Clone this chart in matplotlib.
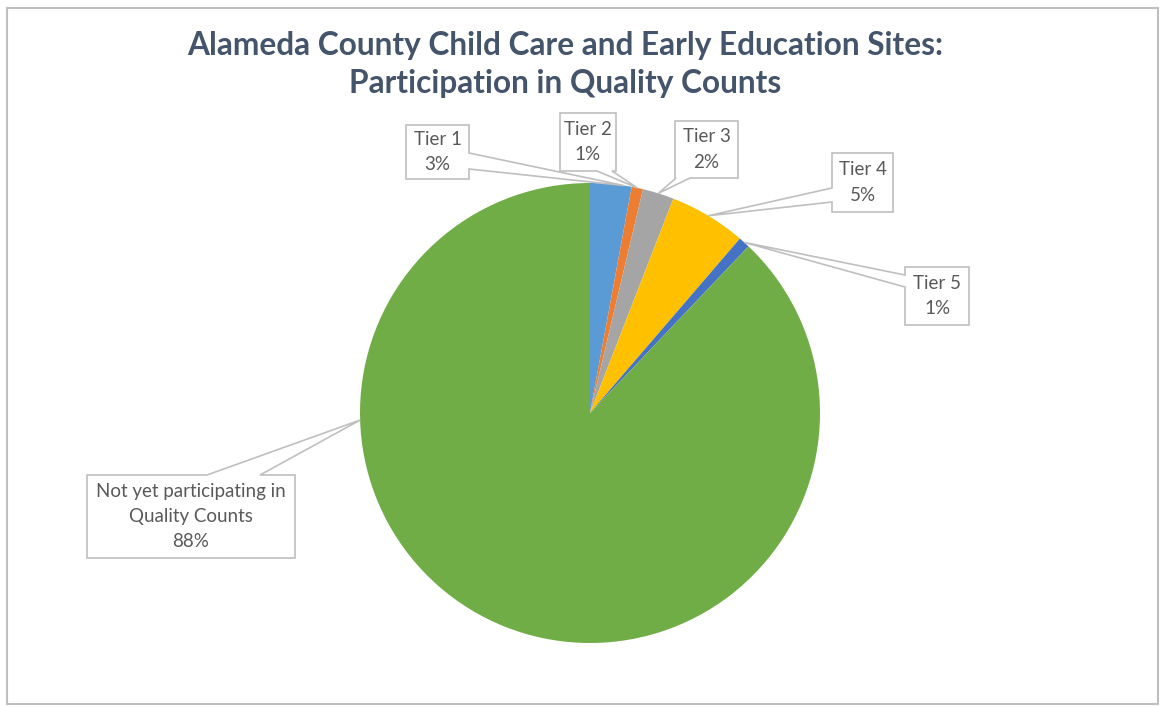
import matplotlib
matplotlib.use("Agg")
import matplotlib.pyplot as plt
from matplotlib.patches import Polygon, Rectangle
import numpy as np

# Data (percent of sites)
categories = ["Tier 1", "Tier 2", "Tier 3", "Tier 4", "Tier 5",
              "Not yet participating in\nQuality Counts"]
values = [2.9, 0.8, 2.2, 5.4, 0.8, 87.9]
colors = ["#5B9BD5", "#ED7D31", "#A5A5A5", "#FFC000", "#4472C4", "#70AD47"]

title = "Alameda County Child Care and Early Education Sites:\nParticipation in Quality Counts"

W, H = 1161, 707
plt.rcParams['font.family'] = ['Lato', 'DejaVu Sans']

fig = plt.figure(figsize=(W / 100, H / 100), dpi=100)
ax = fig.add_axes([0, 0, 1, 1])
ax.set_xlim(0, W)
ax.set_ylim(0, H)
ax.set_aspect('equal')
ax.axis('off')

# pixel helper: picture coords (y down) -> axes coords (y up)
def P(x, y):
    return (x, H - y)

# outer frame
ax.add_patch(Rectangle(P(7, 704), 1151, 696, fill=False, edgecolor="#BFBFBF", linewidth=1.5))

cx, cy = P(590, 413)
radius = 230
wedges, _ = ax.pie(values, colors=colors, startangle=90, counterclock=False,
                   center=(cx, cy), radius=radius, wedgeprops=dict(linewidth=0),
                   frame=True)
ax.set_xlim(0, W)
ax.set_ylim(0, H)
ax.axis('off')

fig.text(565 / W, 1 - 45 / H, title.split("\n")[0], ha='center', va='center',
         fontsize=22.8, fontweight='bold', color="#44546A")
fig.text(565 / W, 1 - 83 / H, title.split("\n")[1], ha='center', va='center',
         fontsize=22.8, fontweight='bold', color="#44546A")

# callout layout: box (x0, y0, x1, y1) in picture px, side of pointer, pointer base, spot in slice
boxes = [(406, 125, 469, 179), (560, 113, 616, 171), (675, 121, 738, 178),
         (832, 153, 893, 212), (905, 267, 969, 325), (87, 475, 295, 558)]
sides = ["right", "bottom", "bottom", "left", "left", "top"]
bases = [(153, 169), (597, 612), (676, 690), (188, 202), (275, 287), (207, 260)]
spots = [0.8, 0.5, 0.5, 0.5, 0.5, 0.71]

cum = np.concatenate([[0], np.cumsum(values)])
for i, lab in enumerate(categories):
    x0, y0, x1, y1 = boxes[i]
    frac = (cum[i] + spots[i] * values[i]) / 100.0
    ang = np.deg2rad(90 - 360 * frac)
    tx, ty = cx + radius * np.cos(ang), cy + radius * np.sin(ang)
    b0, b1 = bases[i]
    # outline clockwise in picture coords starting top-left
    pts = [(x0, y0)]
    if sides[i] == "top":
        pts += [(b0, y0), None, (b1, y0)]
    pts += [(x1, y0)]
    if sides[i] == "right":
        pts += [(x1, b0), None, (x1, b1)]
    pts += [(x1, y1)]
    if sides[i] == "bottom":
        pts += [(b1, y1), None, (b0, y1)]
    pts += [(x0, y1)]
    if sides[i] == "left":
        pts += [(x0, b1), None, (x0, b0)]
    poly = [(tx, ty) if p is None else P(*p) for p in pts]
    ax.add_patch(Polygon(poly, closed=True, facecolor="white", edgecolor="#BFBFBF",
                         linewidth=1.2, zorder=3))
    txt = f"{lab}\n{values[i]:.0f}%"
    mx, my = P((x0 + x1) / 2, (y0 + y1) / 2)
    ax.text(mx, my, txt, ha='center', va='center', fontsize=13.5, color="#595959",
            linespacing=1.6, zorder=4)

fig.savefig("out.png", dpi=100, facecolor="white")
